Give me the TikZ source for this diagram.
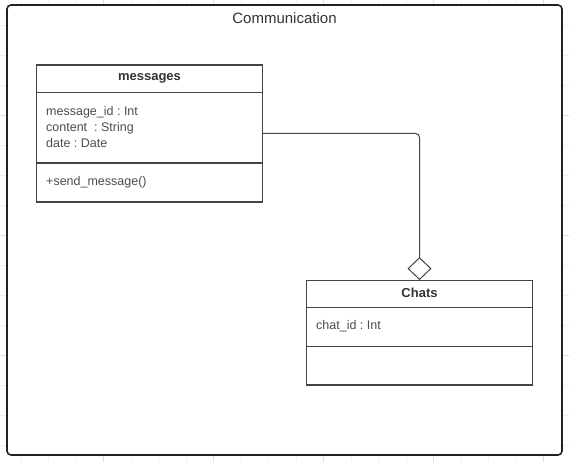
\documentclass[tikz,border=0pt]{standalone}
\usepackage{fontspec}
\setmainfont{Liberation Sans}
\usetikzlibrary{arrows.meta}
\frenchspacing
\definecolor{framegray}{HTML}{222222}
\definecolor{linegray}{HTML}{444444}
\definecolor{namegray}{HTML}{333333}
\definecolor{textgray}{HTML}{4D4D4D}
\definecolor{gridminor}{HTML}{F0F0F0}
\definecolor{gridmajor}{HTML}{E0E0E0}
\tikzset{
  classbox/.style={draw=linegray, line width=1.3pt, fill=white, inner sep=0pt, minimum width=225.5},
  classline/.style={draw=linegray, line width=1.3pt},
  classname/.style={font=\fontsize{13}{16}\selectfont\bfseries, text=namegray},
  members/.style={font=\fontsize{12.5}{16}\selectfont, text=textgray, align=left, anchor=west, inner sep=0pt},
  assoc/.style={draw=linegray, line width=1pt, rounded corners=4pt, -{Diamond[open, length=23pt, width=24pt]}}
}
\begin{document}
\begin{tikzpicture}[x=1pt, y=-1pt]
\useasboundingbox (0,0) rectangle (569,462);
% background grid
\foreach \k in {0,...,19} \draw[gridminor, line width=0.6pt] (20.8+27.5*\k,0) -- (20.8+27.5*\k,462);
\foreach \k in {0,...,14} \draw[gridminor, line width=0.6pt] (0,25+30*\k) -- (569,25+30*\k);
\foreach \k in {0,...,4} \draw[gridmajor, line width=0.8pt] (103.3+110*\k,0) -- (103.3+110*\k,462);
\foreach \k in {0,...,3} \draw[gridmajor, line width=0.8pt] (0,115+120*\k) -- (569,115+120*\k);
% package frame
\node[draw=framegray, fill=white, line width=1.6pt, rounded corners=4pt, minimum width=555, minimum height=450] (package) at (284.5,230) {};
\node[font=\fontsize{15}{18}\selectfont, text=namegray] (title) at (284.5,18) {Communication};
% messages class
\node[classbox, minimum height=137] (messages) at (149.5,133.5) {};
\draw[classline] (messages.north west) ++(0,28.3) -- ++(225.5,0);
\draw[classline] (messages.north west) ++(0,98.7) -- ++(225.5,0);
\node[classname] (messagesname) at (149.5,78.5) {messages};
\node[members] (messagesattr) at (46,127) {message\_id : Int\\content\ \ : String\\date : Date};
\node[members] (messagesops) at (46,182) {+send\_message()};
% Chats class
\node[classbox, minimum height=104.3] (chats) at (419.5,332.9) {};
\draw[classline] (chats.north west) ++(0,27.6) -- ++(225.5,0);
\draw[classline] (chats.north west) ++(0,66.6) -- ++(225.5,0);
\node[classname] (chatsname) at (419.5,292.7) {Chats};
\node[members] (chatsattr) at (316,326.7) {chat\_id : Int};
% aggregation
\draw[assoc] (messages.east) -| (chats.north);
\end{tikzpicture}
\end{document}
